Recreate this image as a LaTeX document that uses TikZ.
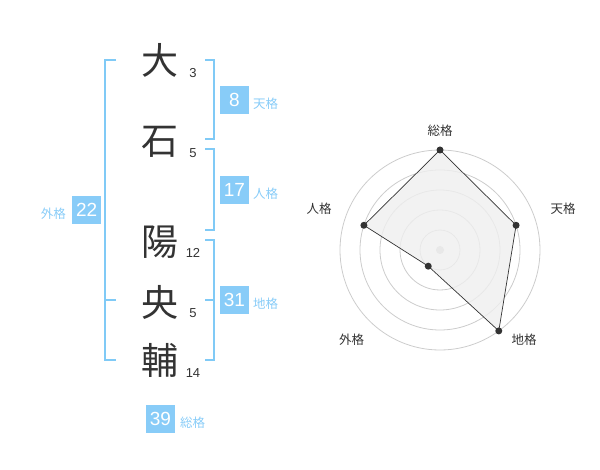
\documentclass[tikz,border=0pt]{standalone}
\usepackage{fontspec}
\setmainfont{Liberation Sans}
\newfontfamily\cjk{Noto Sans CJK JP}
\definecolor{kakublau}{HTML}{88CCF8}
\definecolor{klammerblau}{HTML}{80CAF6}
\definecolor{schrift}{HTML}{333333}
\definecolor{ring}{HTML}{CCCCCC}
\definecolor{flaeche}{HTML}{EFEFEF}
\tikzset{
 zeichen/.style={font=\cjk\fontsize{37}{37}\selectfont,text=schrift,inner sep=0pt},
 strich/.style={font=\fontsize{13}{13}\selectfont,text=schrift,inner sep=0pt},
 wert/.style={fill=kakublau,text=white,minimum width=29,minimum height=28,inner sep=0pt,font=\fontsize{19}{19}\selectfont},
 kaku/.style={font=\cjk\fontsize{12.5}{12.5}\selectfont,text=kakublau,inner sep=0pt},
 klammer/.style={draw=klammerblau,line width=2},
 achse/.style={font=\cjk\fontsize{12.5}{12.5}\selectfont,text=schrift,inner sep=0pt},
 punkt/.style={circle,fill=schrift,inner sep=0pt,minimum size=7}
}
\begin{document}
\begin{tikzpicture}[x=1pt,y=-1pt]
\useasboundingbox (0,0) rectangle (600,470);
%Name
\node[zeichen] (z1) at (160,60) {大};
\node[zeichen] (z2) at (160,142) {石};
\node[zeichen] (z3) at (160,242) {陽};
\node[zeichen] (z4) at (160,302) {央};
\node[zeichen] (z5) at (160,360) {輔};
%Striche
\node[strich] (s1) at (193,73) {3};
\node[strich] (s2) at (193,153) {5};
\node[strich] (s3) at (193,253) {12};
\node[strich] (s4) at (193,313) {5};
\node[strich] (s5) at (193,373) {14};
%Klammern
\draw[klammer] (205,60)--(214,60)--(214,139)--(205,139);
\draw[klammer] (205,149)--(214,149)--(214,230)--(205,230);
\draw[klammer] (205,240)--(214,240)--(214,360)--(205,360);
\draw[klammer] (205,300)--(214,300);
\draw[klammer] (116,60)--(105,60)--(105,360)--(116,360);
\draw[klammer] (105,300)--(116,300);
%Werte
\node[wert] (ten) at (234.5,100) {8};
\node[kaku,anchor=west] (tenl) at (253,104) {天格};
\node[wert] (jin) at (234.5,190) {17};
\node[kaku,anchor=west] (jinl) at (253,194) {人格};
\node[wert] (chi) at (234.5,300) {31};
\node[kaku,anchor=west] (chil) at (253,304) {地格};
\node[wert] (gai) at (86.7,210) {22};
\node[kaku] (gail) at (53.3,213.5) {外格};
\node[wert] (sou) at (160.5,419) {39};
\node[kaku,anchor=west] (soul) at (180,422.5) {総格};
%Netz
\begin{scope}[shift={(440,250)},x=1pt,y=1pt]
\foreach \r in {20,40,...,100}
 \draw[ring,line width=.8] (0,0) circle (\r);
\fill[ring] (0,0) circle (4);
\coordinate (p1) at (90:100);
\coordinate (p2) at (18:80);
\coordinate (p3) at (-54:100);
\coordinate (p4) at (-126:20);
\coordinate (p5) at (162:80);
\draw[fill=flaeche,fill opacity=.8,draw=schrift,line width=.7] (p1)--(p2)--(p3)--(p4)--(p5)--cycle;
\foreach \p in {p1,p2,p3,p4,p5}
 \node[punkt] at (\p) {};
\end{scope}
%Beschriftung
\node[achse] (a1) at (440,130.5) {総格};
\node[achse] (a2) at (563,208.5) {天格};
\node[achse] (a3) at (524,340) {地格};
\node[achse] (a4) at (351.5,340) {外格};
\node[achse] (a5) at (319,208.5) {人格};
\end{tikzpicture}
\end{document}
